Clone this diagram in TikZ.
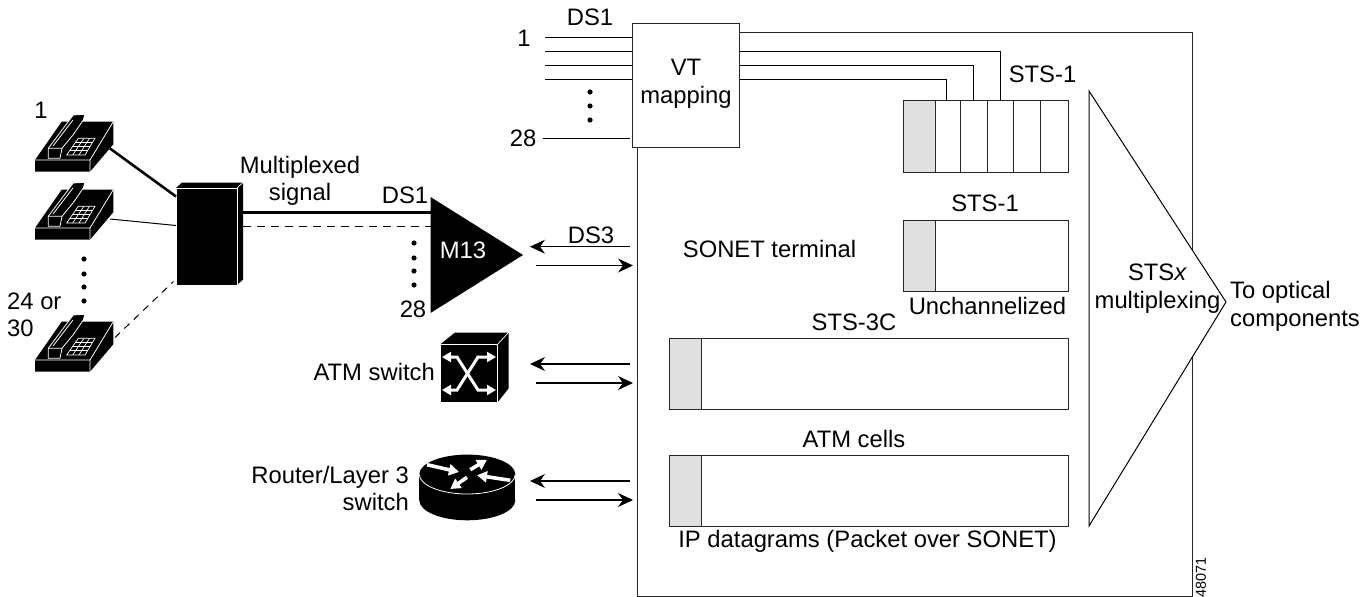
\documentclass[tikz,border=0pt]{standalone}
\usepackage{fontspec}
\setmainfont{Liberation Sans}
\usetikzlibrary{arrows.meta,calc}

\begin{document}
\begin{tikzpicture}[x=1pt,y=-1pt]
    \tikzset{
        lbl/.style={inner sep=0pt, align=center, font=\fontsize{23.8}{27.5}\selectfont},
        wire/.style={line width=1pt},
        boxline/.style={draw=black!85, line width=1pt},
        slot/.style={boxline, fill=black!12},
        flow/.style={line width=1.1pt, -{Stealth[length=15pt,width=14pt,inset=5pt]}},
        whitearrow/.style={white, line width=3.6pt, -{Triangle[length=10pt,width=11pt]}},
        phone/.pic={
            \fill[black] (0,47) -- (26.7,8.7) -- (78.3,8.7) -- (78.3,31.3) -- (55,58.7) -- (0,58.7) -- cycle;
            \draw[white, line width=.8pt] (0,47) -- (55,47) -- (78.3,8.7) (55,47) -- (55,58.7);
            \draw[white, line width=.8pt, fill=black] (13.3,45.3) -- (13.3,35.3) -- (38.3,2) -- (50,1.3)
                -- (48.3,7) -- (38,22) -- (27,35.3) -- (25,45.3) -- cycle;
            \draw[white, line width=.8pt] (13.3,35.3) -- (27,35.3) (18,33) -- (38,7);
            \draw[white, line width=.7pt] (31.7,42) -- (43.3,25.3) -- (60,25.3) -- (50,42) -- cycle;
            \foreach \t in {.25,.5,.75} {
                \draw[white, line width=.7pt] ($(31.7,42)!\t!(43.3,25.3)$) -- ($(50,42)!\t!(60,25.3)$);
            }
            \foreach \t in {.33,.67} {
                \draw[white, line width=.7pt] ($(31.7,42)!\t!(50,42)$) -- ($(43.3,25.3)!\t!(60,25.3)$);
            }
        },
    }
    \useasboundingbox (0,0) rectangle (1369,597);

    % Phones
    \pic at (35,113) {phone};
    \pic at (35,181) {phone};
    \pic at (35,313) {phone};
    \foreach \y in {259,274,287,301} {
        \fill (84,\y) circle (2.6pt);
    }
    \node[lbl] (phonefirst) at (41,110) {1};
    \node[lbl, align=left, anchor=west] (phonelast) at (7,315) {24 or\\30};

    % Multiplexer
    \fill (176,188) -- (182,182.5) -- (243,182.5) -- (243,279.5) -- (237,285) -- (176,285) -- cycle;
    \node[fill=black, draw=white, line width=.7pt, minimum width=61pt, minimum height=97pt, inner sep=0pt] (mux) at (206.5,236.5) {};
    \draw[white, line width=.7pt] (mux.north east) -- (243,182.5);
    \coordinate (phoneA) at (110,148.5);
    \coordinate (phoneB) at (110,219);
    \coordinate (phoneC) at (115,337.5);
    \coordinate (muxA) at (176,196.5);
    \coordinate (muxB) at (176,225.5);
    \coordinate (muxC) at (173.5,281.5);
    \draw[line width=2.6pt] (phoneA) -- (muxA);
    \draw[wire] (phoneB) -- (muxB);
    \draw[wire, dash pattern=on 7pt off 6pt] (phoneC) -- (muxC);
    \node[lbl] (muxsignal) at (300,181) {Multiplexed\\signal};

    % M13
    \fill (430.5,197) coordinate (mtop) -- (523,255) -- (430.5,313) coordinate (mbot) -- cycle;
    \coordinate (muxD) at (243,212.7);
    \coordinate (muxE) at (243,226.3);
    \draw[line width=2.6pt] (muxD) -- (muxD -| mtop);
    \draw[wire, dash pattern=on 8pt off 6pt] (muxE) -- (muxE -| mtop);
    \foreach \y in {243,258,271,285} {
        \fill (414,\y) circle (2.6pt);
    }
    \node[lbl] (mds) at (405,195) {DS1};
    \node[lbl] (mlast) at (413,309) {28};
    \node[lbl, white] (mname) at (463,250) {M13};

    % ATM switch
    \fill (440,344.5) -- (455,332.5) -- (508.5,332.5) -- (508.5,388.5) -- (497.5,402.5) -- (440,402.5) -- cycle;
    \node[fill=black, draw=white, line width=.7pt, minimum width=57.5pt, minimum height=58pt, inner sep=0pt] (atm) at (468.7,373.4) {};
    \draw[white, line width=.7pt] (atm.north east) -- (508.5,332.5);
    \draw[white, line width=3pt, <->, >={Triangle[length=9pt,width=10pt]}] (442,357) -- (457,357) -- (478,390) -- (496,390);
    \draw[white, line width=3pt, <->, >={Triangle[length=9pt,width=10pt]}] (496,357) -- (478,357) -- (457,390) -- (442,390);
    \node[lbl, anchor=east] (atmname) at (435,372) {ATM switch};

    % Router
    \fill (419.3,474.3) rectangle (515.3,500.3);
    \fill (467.3,474.3) ellipse [x radius=48pt, y radius=19.7pt];
    \fill (467.3,500.3) ellipse [x radius=48pt, y radius=20pt];
    \draw[white, line width=.8pt] (419.3,474.3) arc [start angle=180, end angle=360, x radius=48pt, y radius=19.7pt];
    \draw[whitearrow] (427,464.7) -- (459,472);
    \draw[whitearrow] (470.3,469.7) -- (487,459.7);
    \draw[whitearrow] (510.3,480.3) -- (477,475.3);
    \draw[whitearrow] (467,477.3) -- (450.3,489);
    \node[lbl, align=right, anchor=east] (routername) at (409,488.5) {Router/Layer 3\\switch};

    % VT mapping and terminal
    \coordinate (termA) at (739,32);
    \coordinate (termB) at (1192,32);
    \coordinate (termC) at (1192,596);
    \coordinate (termD) at (637.5,596);
    \coordinate (termE) at (637.5,147);
    \draw[boxline] (termA) -- (termB) -- (termC) -- (termD) -- (termE);
    \node[boxline, fill=white, minimum width=107pt, minimum height=124pt, inner sep=0pt] (vt) at (685.5,85) {};
    \node[lbl] (vtname) at (686,84) {VT\\mapping};
    \foreach \n/\y in {a/37,b/51,c/65,d/79.5} {
        \coordinate (in\n) at (545,\y);
        \draw[wire] (in\n) -- (in\n -| vt.west);
    }
    \coordinate (inlast) at (543,138);
    \draw[wire] (inlast) -- (630,138);
    \foreach \y in {92,106,120} {
        \fill (590,\y) circle (2.6pt);
    }
    \node[lbl] (vtds) at (590,17) {DS1};
    \node[lbl] (vtfirst) at (524,38) {1};
    \node[lbl] (vtlast) at (523,138) {28};

    % Payloads
    \node[boxline, anchor=north west, minimum width=165pt, minimum height=72pt, inner sep=0pt] (stsa) at (903,100) {};
    \node[slot, anchor=north west, minimum width=32pt, minimum height=72pt, inner sep=0pt] (stsagray) at (903,100) {};
    \foreach \x in {960,987,1013,1040} {
        \draw[boxline] (\x,100) -- (\x,172);
    }
    \foreach \n/\y/\x in {b/51/1000,c/65/973,d/79.5/946} {
        \coordinate (out\n) at (\x,100);
        \draw[wire] (in\n -| vt.east) -| (out\n);
    }
    \node[lbl] (stsaname) at (1042.5,74) {STS-1};

    \node[boxline, anchor=north west, minimum width=165pt, minimum height=71pt, inner sep=0pt] (stsb) at (903,220) {};
    \node[slot, anchor=north west, minimum width=32pt, minimum height=71pt, inner sep=0pt] (stsbgray) at (903,220) {};
    \node[lbl] (stsbname) at (985,203) {STS-1};
    \node[lbl] (stsbnote) at (987.5,306) {Unchannelized};

    \node[boxline, anchor=north west, minimum width=399pt, minimum height=71pt, inner sep=0pt] (stsc) at (669,338) {};
    \node[slot, anchor=north west, minimum width=32pt, minimum height=71pt, inner sep=0pt] (stscgray) at (669,338) {};
    \node[lbl] (stscname) at (854,322) {STS-3C};

    \node[boxline, anchor=north west, minimum width=399pt, minimum height=71pt, inner sep=0pt] (stsd) at (669,455) {};
    \node[slot, anchor=north west, minimum width=32pt, minimum height=71pt, inner sep=0pt] (stsdgray) at (669,455) {};
    \node[lbl] (stsdname) at (854,439) {ATM cells};
    \node[lbl] (stsdnote) at (867.5,541) {IP datagrams (Packet over SONET)};

    \node[lbl] (termname) at (769.5,249) {SONET terminal};

    % Arcs
    \foreach \n/\ya/\yb in {ds/246.7/265.5,atm/364/383,rt/481/500} {
        \coordinate (\n L) at (629.5,\ya);
        \coordinate (\n R) at (536,\yb);
        \draw[flow] (\n L) -- (530,\ya);
        \draw[flow] (\n R) -- (633,\yb);
    }
    \node[lbl] (dsname) at (591,235) {DS3};

    % STSx multiplexer
    \draw[wire, fill=white] (1089,91) -- (1226,302) -- (1089,526) -- cycle;
    \node[lbl] (stsx) at (1157.5,288.5) {STS\textit{x}\\multiplexing};
    \node[lbl, align=left, anchor=west] (optical) at (1230,306.5) {To optical\\components};

    \node[inner sep=0pt, rotate=90, font=\fontsize{14.4}{16}\selectfont] (figid) at (1201,577) {48071};
\end{tikzpicture}
\end{document}
